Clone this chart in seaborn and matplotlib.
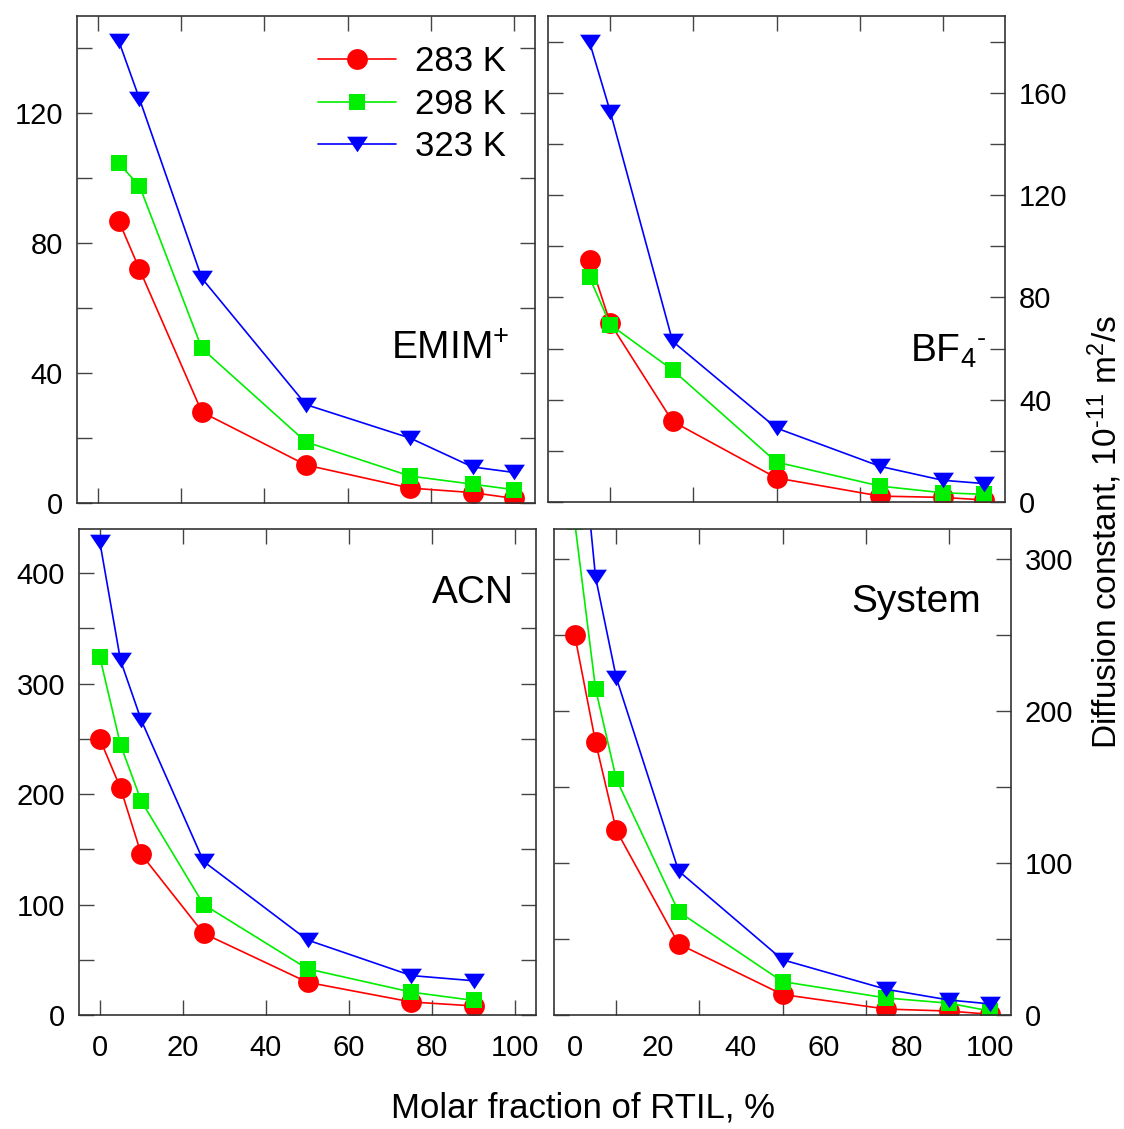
import matplotlib
matplotlib.use("Agg")
import matplotlib.pyplot as plt
import seaborn as sns
import pandas as pd

# ---------------- data ----------------
temps = ["283 K", "298 K", "323 K"]

x_ion = [5, 10, 25, 50, 75, 90, 100]
x_acn = [0, 5, 10, 25, 50, 75, 90]
x_sys = [0, 5, 10, 25, 50, 75, 90, 100]

emim_283 = [87, 72, 28, 11.7, 4.6, 3.2, 1.4]
emim_298 = [104.6, 97.7, 47.6, 18.8, 8.3, 5.8, 4.1]
emim_323 = [142.4, 124.5, 69.2, 30.3, 20.0, 11.1, 9.4]

bf4_283 = [94.7, 69.8, 31.5, 9.4, 2.3, 1.8, 0.8]
bf4_298 = [87.8, 69.3, 51.6, 15.6, 6.2, 3.6, 3.0]
bf4_323 = [179.8, 152.5, 62.8, 28.9, 13.9, 8.5, 7.2]

acn_283 = [250, 205.4, 145.4, 73.9, 29.6, 11.8, 8.2]
acn_298 = [324.3, 244.6, 193.6, 100, 41.8, 20.7, 13.2]
acn_323 = [428.6, 321, 266.8, 139, 67.9, 35.7, 31]

sys_283 = [250, 179.7, 121.6, 46.8, 13.5, 3.9, 2.6, 0.5]
sys_298 = [324.3, 214.8, 155.3, 68, 22, 11.2, 7.8, 2.6]
sys_323 = [428.6, 288.3, 222, 94.8, 36.4, 16.9, 9.9, 7.3]

xtick_labels = ["0", "20", "40", "60", "80", "100"]

# ---------------- style ----------------
sns.set_theme(style="white")
plt.rcParams['font.family'] = ['Liberation Sans', 'DejaVu Sans']
plt.rcParams['mathtext.fontset'] = 'custom'
plt.rcParams['mathtext.rm'] = 'Liberation Sans'
plt.rcParams['mathtext.it'] = 'Liberation Sans:italic'
plt.rcParams['mathtext.bf'] = 'Liberation Sans:bold'
plt.rcParams['text.color'] = 'black'
plt.rcParams['axes.labelcolor'] = 'black'
plt.rcParams['xtick.color'] = 'black'
plt.rcParams['ytick.color'] = 'black'

colors = ["#ff0000", "#00ee00", "#0000ff"]
tri = [(-1, 0.75), (1, 0.75), (0, -0.75)]
markers = ["o", "s", tri]
msizes = [15, 11, 15]

W, H = 1124, 1129
fig = plt.figure(figsize=(W / 100, H / 100), dpi=100)


def add_ax(x0, y0, x1, y1):
    return fig.add_axes([x0 / W, 1 - y1 / H, (x1 - x0) / W, (y1 - y0) / H])


ax_tl = add_ax(77, 16, 535, 503)
ax_tr = add_ax(548, 16, 1005, 502)
ax_bl = add_ax(79, 529, 536, 1015)
ax_br = add_ax(554, 529, 1011, 1015)

panels = [
    (ax_tl, x_ion, [emim_283, emim_298, emim_323], 150, [0, 40, 80, 120], [20, 60, 100, 140]),
    (ax_tr, x_ion, [bf4_283, bf4_298, bf4_323], 190, [0, 40, 80, 120, 160], [20, 60, 100, 140, 180]),
    (ax_bl, x_acn, [acn_283, acn_298, acn_323], 440, [0, 100, 200, 300, 400], [50, 150, 250, 350]),
    (ax_br, x_sys, [sys_283, sys_298, sys_323], 320, [0, 100, 200, 300], [50, 150, 250]),
]

spine_col = "#333333"
TS = 21
for ax, xs, series, ytop, ymaj, ymin in panels:
    for ys, lab, c, m, ms in zip(series, temps, colors, markers, msizes):
        df = pd.DataFrame({"x": xs, "y": ys})
        sns.lineplot(data=df, x="x", y="y", ax=ax, color=c, marker=m,
                     markersize=ms, markeredgewidth=0, linewidth=1.2,
                     label=lab, legend=False)
    ax.set_xlim(-5, 105)
    ax.set_ylim(0, ytop)
    ax.set_xlabel("")
    ax.set_ylabel("")
    for s in ax.spines.values():
        s.set_color(spine_col)
        s.set_linewidth(1.2)
    ax.set_yticks(ymaj)
    ax.set_yticks(ymin, minor=True)
    ax.tick_params(axis="both", which="both", direction="in", length=11,
                   width=1.0, color="#444444", top=True, bottom=True,
                   left=True, right=True, labelsize=TS, labelcolor="black")
    ax.tick_params(axis="y", which="minor", labelleft=False, labelright=False)

# x ticks
for ax in (ax_tl, ax_bl):
    ax.set_xticks([0, 20, 40, 60, 80, 100])
    ax.set_xticklabels(xtick_labels)
for ax in (ax_tr, ax_br):
    ax.set_xticks([10, 30, 50, 70, 90])
    ax.set_xticklabels([])

ax_br.set_xticks([0, 20, 40, 60, 80, 100], minor=True)
ax_br.set_xticklabels(xtick_labels, minor=True)
ax_br.tick_params(axis="x", which="minor", length=0, labelbottom=True,
                  labeltop=False, labelsize=TS, pad=14)
ax_tr.tick_params(axis="x", which="minor", length=0)

ax_tl.tick_params(axis="x", labelbottom=False)
ax_bl.tick_params(axis="x", labelbottom=True, pad=14)

for ax in (ax_tl, ax_bl):
    ax.tick_params(axis="y", labelleft=True, labelright=False, pad=10)
for ax in (ax_tr, ax_br):
    ax.tick_params(axis="y", which="major", labelleft=False, labelright=True, pad=10)
    ax.tick_params(axis="x", which="major", labelbottom=False)

# panel labels
PL = 28
ax_tl.text(0.945, 0.294, r"EMIM$^{+}$", transform=ax_tl.transAxes,
           ha="right", va="baseline", fontsize=PL)
ax_tr.text(0.96, 0.288, "BF$_{4}{}^{\u2010}$", transform=ax_tr.transAxes,
           ha="right", va="baseline", fontsize=PL)
ax_bl.text(0.952, 0.847, "ACN", transform=ax_bl.transAxes,
           ha="right", va="baseline", fontsize=PL)
ax_br.text(0.935, 0.829, "System", transform=ax_br.transAxes,
           ha="right", va="baseline", fontsize=PL)

# legend
h, l = ax_tl.get_legend_handles_labels()
ax_tl.legend(h, l, loc="upper left", bbox_to_anchor=((318 - 77) / 458, (503 - 45) / 487),
             frameon=False, fontsize=25, handlelength=2.25, handletextpad=0.55,
             labelspacing=0.28, borderpad=0, borderaxespad=0)

# axis labels
fig.text(583 / W, 1 - 1108 / H, "Molar fraction of RTIL, %", ha="center",
         va="center", fontsize=25)
fig.text(1105 / W, 1 - 532 / H, "Diffusion constant, 10$^{\u201011}$ m$^{2}$/s",
         ha="center", va="center", rotation=90, fontsize=24)

fig.savefig("out.png", dpi=100)
